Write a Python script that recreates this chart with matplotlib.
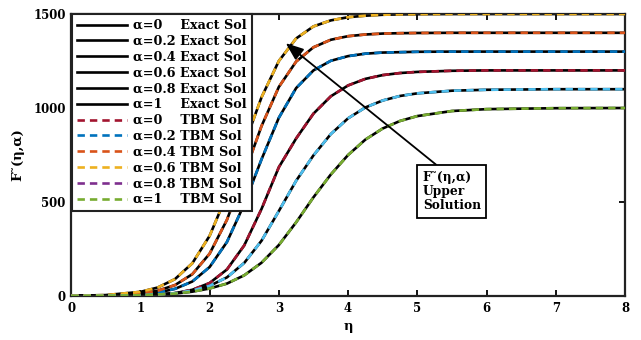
import matplotlib
matplotlib.use("Agg")
import matplotlib.pyplot as plt
from matplotlib.lines import Line2D

# values
eta = [0, 0.5, 1, 1.25, 1.5, 1.75, 2, 2.25, 2.5, 2.75, 3, 3.25, 3.5, 3.75,
       4, 4.25, 4.5, 4.75, 5, 5.5, 6, 7, 8]
f_a00 = [0, 1, 3, 7, 15, 33, 69, 141, 269, 463, 685, 838, 970, 1062,
         1120, 1155, 1175, 1186, 1192, 1198, 1200, 1200, 1200]
f_a02 = [0, 2, 9, 18, 38, 77, 154, 287, 488, 727, 948, 1106, 1200, 1251,
         1276, 1289, 1295, 1297, 1299, 1300, 1300, 1300, 1300]
f_a04 = [1, 3, 13, 28, 58, 116, 225, 405, 648, 904, 1112, 1247, 1323, 1363,
         1382, 1391, 1396, 1398, 1399, 1400, 1400, 1400, 1400]
f_a06 = [1, 5, 22, 45, 90, 174, 320, 538, 804, 1057, 1250, 1370, 1434, 1466,
         1483, 1491, 1496, 1498, 1499, 1500, 1500, 1500, 1500]
f_a08 = [0, 1, 4, 8, 15, 29, 54, 99, 176, 294, 452, 613, 748, 861,
         945, 1003, 1040, 1064, 1078, 1092, 1097, 1100, 1100]
f_a10 = [0, 1, 4, 8, 13, 23, 40, 66, 110, 177, 271, 392, 525, 646,
         750, 832, 891, 931, 957, 984, 994, 999, 1000]

alphas = ["0", "0.2", "0.4", "0.6", "0.8", "1"]
series = [f_a00, f_a02, f_a04, f_a06, f_a08, f_a10]

# MATLAB default colours; curve for alpha=0.8 is drawn light blue in the source
legend_colors = ["#A2142F", "#0072BD", "#D95319", "#EDB120", "#7E2F8E", "#77AC30"]
curve_colors = ["#A2142F", "#0072BD", "#D95319", "#EDB120", "#4DBEEE", "#77AC30"]

FONT = "DejaVu Serif"
plt.rcParams["font.family"] = FONT
plt.rcParams["font.weight"] = "bold"

LW = 1.9
DASH = (0, (2.8, 1.9))

fig = plt.figure(figsize=(6.41, 3.40), dpi=100)
ax = fig.add_axes([0.111, 0.1294, 0.864, 0.8294])

# exact solutions: black solid, TBM: coloured dashes on top
for vals in series:
    ax.plot(eta, vals, color="black", lw=LW, zorder=2)
for vals, c in zip(series, curve_colors):
    ax.plot(eta, vals, color=c, lw=LW, ls=DASH, zorder=3)

ax.set_xlim(0, 8)
ax.set_ylim(0, 1500)
ax.set_xticks(range(0, 9))
ax.set_yticks([0, 500, 1000, 1500])
ax.tick_params(direction="in", length=4, width=1.3, top=True, right=True,
               labelsize=8.5, pad=4)
for lab in ax.get_xticklabels() + ax.get_yticklabels():
    lab.set_fontweight("bold")
for sp in ax.spines.values():
    sp.set_linewidth(1.6)
    sp.set_color("#222222")

ax.set_xlabel("η", fontsize=9.5, fontweight="bold", labelpad=4)
ax.set_ylabel("F\u02dc(η,α)", fontsize=9.5, fontweight="bold", labelpad=6)

# legend
handles, labels = [], []
for a in alphas:
    gap = "    " if len(a) == 1 else " "
    handles.append(Line2D([], [], color="black", lw=LW))
    labels.append(f"α={a}{gap}Exact Sol")
for a, c in zip(alphas, legend_colors):
    gap = "    " if len(a) == 1 else " "
    handles.append(Line2D([], [], color=c, lw=LW, ls=DASH))
    labels.append(f"α={a}{gap}TBM Sol")
leg = ax.legend(handles, labels, loc="upper left", bbox_to_anchor=(0.002, 1.0),
                borderaxespad=0, handlelength=3.9,
                handletextpad=0.45, labelspacing=0.22, borderpad=0.4,
                fancybox=False, framealpha=1, edgecolor="#222222",
                prop={"family": FONT, "weight": "bold", "size": 9.2})
leg.get_frame().set_linewidth(1.5)
leg.set_zorder(5)

# annotation
ax.annotate("", xy=(3.10, 1345), xytext=(5.27, 699),
            arrowprops=dict(arrowstyle="-|>,head_length=0.9,head_width=0.35",
                            color="black", lw=1.3, shrinkA=0, shrinkB=0,
                            mutation_scale=12), zorder=6)
ax.text(5.08, 667, "F\u02dc(η,α)\nUpper\nSolution", fontsize=8.8,
        fontweight="bold", ha="left", va="top", linespacing=1.12, zorder=6,
        bbox=dict(boxstyle="square,pad=0.45", fc="white", ec="black", lw=1.3))

fig.savefig("out.png", dpi=100)
